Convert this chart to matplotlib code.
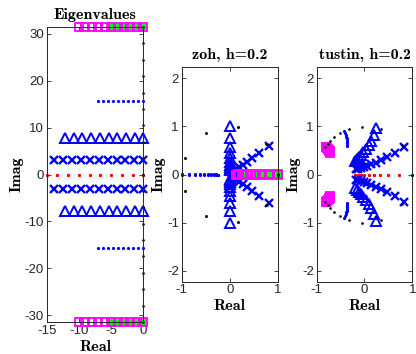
import numpy as np
import matplotlib
matplotlib.use('Agg')
import matplotlib.pyplot as plt

plt.rcParams['axes.unicode_minus'] = False

h = 0.2

# continuous-time eigenvalues, plotted with their conjugates
red_re = [-15, -13.33, -11.67, -10, -8.33, -6.67, -5, -3.33, -1.67, 0]
red_im = 0.0

cross_re = [-13.9, -12.5, -11.1, -9.7, -8.3, -6.95, -5.55, -4.15, -2.8, -1.4, 0]
cross_im = 3.14

tri_re = [-12.15, -10.8, -9.45, -8.1, -6.75, -5.4, -4.05, -2.7, -1.35, 0]
tri_im = 7.85

dot_re = [-7, -6.22, -5.44, -4.67, -3.89, -3.11, -2.33, -1.56, -0.78, 0]
dot_im = 15.7

green_re = [-5, -4, -3, -2, -1, 0]
box_re = [-10, -9, -8, -7, -6, -5, -4, -3, -2, -1, 0]
box_im = 31.4

black_re = 0.0
black_im = [0, 3.49, 6.98, 10.47, 13.96, 17.45, 20.94, 24.43, 27.93, 31.42]

titles = ['Eigenvalues', 'zoh, h=0.2', 'tustin, h=0.2']

lab_font = dict(family='cmb10', size=11.5)


def conj_pairs(re, im):
    re = np.asarray(re, dtype=float)
    s = re + 1j * im
    return np.concatenate([s, np.conj(s)])


def zoh(s):
    return np.exp(s * h)


def tustin(s):
    return (1 + s * h / 2) / (1 - s * h / 2)


series = [
    # eigenvalues, style
    (conj_pairs(red_re, red_im), dict(marker='o', ms=2.2, color='red', ls='none', mew=0)),
    (conj_pairs(cross_re, cross_im), dict(marker='x', ms=5.5, color='blue', ls='none', mew=1.7)),
    (conj_pairs(tri_re, tri_im), dict(marker='^', ms=7.5, color='blue', mfc='none', ls='none', mew=1.4)),
    (conj_pairs(dot_re, dot_im), dict(marker='o', ms=2.3, color='blue', ls='none', mew=0)),
    (conj_pairs(green_re, box_im), dict(marker='s', ms=5, color='#00ff00', ls='none', mew=0)),
    (conj_pairs(box_re, box_im), dict(marker='s', ms=6.3, color='#ff00ff', mfc='none', ls='none', mew=1.3)),
    (np.concatenate([black_re + 1j * np.array(black_im), black_re - 1j * np.array(black_im[1:])]),
     dict(marker='o', ms=1.9, color='black', ls='none', mew=0)),
]

fig = plt.figure(figsize=(4.16, 3.54), dpi=100)
axes = [
    fig.add_axes([0.1123, 0.0904, 0.2322, 0.8333]),
    fig.add_axes([0.4368, 0.2042, 0.2308, 0.6056]),
    fig.add_axes([0.7613, 0.2042, 0.2298, 0.6056]),
]
maps = [lambda s: s, zoh, tustin]

for ax, f, title in zip(axes, maps, titles):
    for s, style in series:
        z = f(s)
        ax.plot(z.real, z.imag, clip_on=False, **style)
    ax.set_title(title, fontdict=lab_font, pad=6)
    ax.set_xlabel('Real', fontdict=lab_font, labelpad=2)
    ax.set_ylabel('Imag', fontdict=lab_font, labelpad=1)
    ax.tick_params(direction='in', top=True, right=True, length=3, width=0.6,
                   labelsize=9.5, colors='#262626', pad=2)
    for sp in ax.spines.values():
        sp.set_linewidth(0.7)
        sp.set_color('#262626')

axes[0].set_xlim(-15, 0)
axes[0].set_ylim(-31.42, 31.42)
axes[0].set_xticks([-15, -10, -5, 0])
axes[0].set_yticks([-30, -20, -10, 0, 10, 20, 30])

for ax in axes[1:]:
    ax.set_xlim(-1, 1)
    ax.set_ylim(-2.23, 2.23)
    ax.set_xticks([-1, 0, 1])
    ax.set_yticks([-2, -1, 0, 1, 2])

for ax in axes:
    for lab in ax.get_xticklabels() + ax.get_yticklabels():
        lab.set_family('Liberation Sans')

fig.savefig('out.png', dpi=100)
